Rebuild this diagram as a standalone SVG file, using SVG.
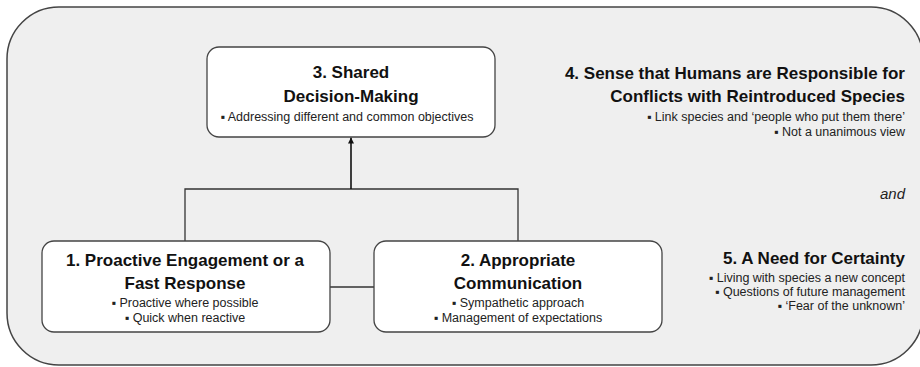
<svg xmlns="http://www.w3.org/2000/svg" width="920" height="367" viewBox="0 0 920 367">
<defs>
<marker id="arr" viewBox="0 0 10 10" refX="10" refY="5" markerWidth="6" markerHeight="6" markerUnits="userSpaceOnUse" orient="auto">
<path d="M0,0 L10,5 L0,10 z" fill="#111"/>
</marker>
<style>
.frame{fill:#efefef;stroke:#444;stroke-width:1.5}
.box{fill:#fff;stroke:#444;stroke-width:1.3}
.t{font-family:"Liberation Sans",Arial,sans-serif;font-weight:bold;font-size:17px;fill:#111}
.b{font-family:"Liberation Sans",Arial,sans-serif;font-size:12.5px;fill:#222}
.i{font-family:"Liberation Sans",Arial,sans-serif;font-style:italic;font-size:15px;fill:#222}
.ln{fill:none;stroke:#333;stroke-width:1.3}
.ar{fill:none;stroke:#111;stroke-width:1.6}
</style>
</defs>
<rect class="frame" x="7" y="7" width="916" height="358" rx="52" ry="52"/>
<g id="connectors">
<path class="ln" d="M185,241 V189 H518 V241"/>
<path class="ln" d="M330,287 H374"/>
<path class="ar" d="M351,189 V137.5" marker-end="url(#arr)"/>
</g>
<g id="node3">
<rect class="box" x="207" y="47" width="288" height="90" rx="12"/>
<text class="t" x="351" y="78" text-anchor="middle">3. Shared</text>
<text class="t" x="351" y="102" text-anchor="middle">Decision-Making</text>
<text class="b" x="347" y="121" text-anchor="middle">▪ Addressing different and common objectives</text>
</g>
<g id="node1">
<rect class="box" x="42" y="241" width="288" height="91" rx="12"/>
<text class="t" x="185" y="266" text-anchor="middle">1. Proactive Engagement or a</text>
<text class="t" x="185" y="289" text-anchor="middle">Fast Response</text>
<text class="b" x="185" y="307" text-anchor="middle">▪ Proactive where possible</text>
<text class="b" x="185" y="322" text-anchor="middle">▪ Quick when reactive</text>
</g>
<g id="node2">
<rect class="box" x="374" y="241" width="288" height="91" rx="12"/>
<text class="t" x="518" y="266" text-anchor="middle">2. Appropriate</text>
<text class="t" x="518" y="289" text-anchor="middle">Communication</text>
<text class="b" x="518" y="307" text-anchor="middle">▪ Sympathetic approach</text>
<text class="b" x="518" y="322" text-anchor="middle">▪ Management of expectations</text>
</g>
<g id="node4">
<text class="t" x="905" y="79" text-anchor="end">4. Sense that Humans are Responsible for</text>
<text class="t" x="905" y="102" text-anchor="end">Conflicts with Reintroduced Species</text>
<text class="b" x="905" y="121" text-anchor="end">▪ Link species and ‘people who put them there’</text>
<text class="b" x="905" y="136" text-anchor="end">▪ Not a unanimous view</text>
</g>
<g id="and">
<text class="i" x="905" y="199" text-anchor="end">and</text>
</g>
<g id="node5">
<text class="t" x="905" y="264" text-anchor="end">5. A Need for Certainty</text>
<text class="b" x="905" y="282" text-anchor="end">▪ Living with species a new concept</text>
<text class="b" x="905" y="296" text-anchor="end">▪ Questions of future management</text>
<text class="b" x="905" y="310" text-anchor="end">▪ ‘Fear of the unknown’</text>
</g>
</svg>
